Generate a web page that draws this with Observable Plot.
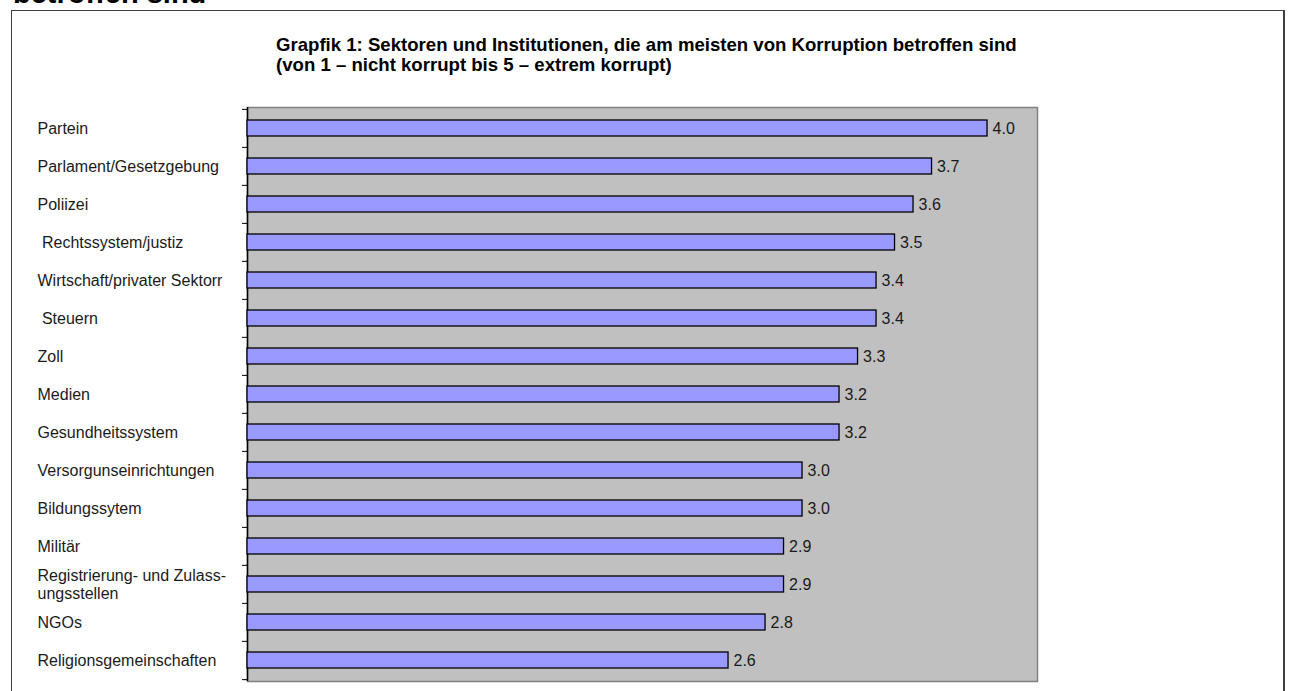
<!DOCTYPE html>
<html><head><meta charset="utf-8">
<script src="https://cdn.jsdelivr.net/npm/d3@7"></script>
<script src="https://cdn.jsdelivr.net/npm/@observablehq/plot@0.6"></script>
<style>
html,body{margin:0;padding:0;background:#fff;}
#page{position:relative;width:1290px;height:691px;overflow:hidden;font-family:"Liberation Sans",Arial,sans-serif;}
#head{position:absolute;left:13px;top:-21px;font-weight:bold;font-size:29px;line-height:29px;white-space:nowrap;color:#000;}
#box{position:absolute;left:11px;top:10px;width:1271px;height:700px;border:1px solid #404040;border-right:2px solid #404040;}
#chart{position:absolute;left:0;top:0;}
#title{position:absolute;left:276px;top:35px;font-weight:bold;font-size:18.6px;line-height:20px;color:#000;white-space:nowrap;}
svg text{white-space:pre;}
</style></head><body>
<div id="page">
<div id="head">betroffen sind</div>
<div id="box"></div>
<div id="chart"></div>
<div id="title">Grapfik 1: Sektoren und Institutionen, die am meisten von Korruption betroffen sind<br>(von 1 – nicht korrupt bis 5 – extrem korrupt)</div>
</div>
<script>
const sectors = [
  "Partein",
  "Parlament/Gesetzgebung",
  "Poliizei",
  " Rechtssystem/justiz",
  "Wirtschaft/privater Sektorr",
  " Steuern",
  "Zoll",
  "Medien",
  "Gesundheitssystem",
  "Versorgunseinrichtungen",
  "Bildungssytem",
  "Militär",
  "Registrierung- und Zulass-\nungsstellen",
  "NGOs",
  "Religionsgemeinschaften"
];
const scores = [4.0, 3.7, 3.6, 3.5, 3.4, 3.4, 3.3, 3.2, 3.2, 3.0, 3.0, 2.9, 2.9, 2.8, 2.6];
const xDomain = [0, 4.27];

const data = sectors.map((s, i) => ({sector: s, score: scores[i]}));
const W = 1290, H = 691, mL = 247, mR = 253, mT = 107, mB = 10;
const step = (H - mT - mB) / sectors.length;

const chart = Plot.plot({
  width: W, height: H,
  marginLeft: mL, marginRight: mR, marginTop: mT, marginBottom: mB,
  style: {background: "transparent", fontFamily: "Liberation Sans, Arial, sans-serif", overflow: "visible"},
  x: {domain: xDomain, axis: null},
  y: {domain: sectors, paddingInner: 0.58, paddingOuter: 0.29, label: null},
  marks: [
    Plot.frame({fill: "#c0c0c0", stroke: "#808080", strokeWidth: 1.5}),
    Plot.axisY({tickSize: 5, tickFormat: () => "", dy: -step / 2, stroke: "#000", label: null}),
    Plot.axisY([sectors[sectors.length - 1]], {tickSize: 5, tickFormat: () => "", dy: step / 2, stroke: "#000", label: null}),
    Plot.ruleX([0], {stroke: "#000", strokeWidth: 1.5}),
    Plot.barX(data, {x: "score", y: "sector", fill: "#9999ff", stroke: "#000", strokeWidth: 1.3}),
    Plot.text(data, {x: "score", y: "sector", text: d => d.score.toFixed(1), textAnchor: "start", dx: 5, fontSize: 16, fill: "#1a1a1a"}),
    Plot.text(data, {y: "sector", text: "sector", frameAnchor: "left", dx: -210, textAnchor: "start", fontSize: 16, lineHeight: 1.125, fill: "#1a1a1a"})
  ]
});
document.getElementById("chart").appendChild(chart);
</script>
</body></html>
